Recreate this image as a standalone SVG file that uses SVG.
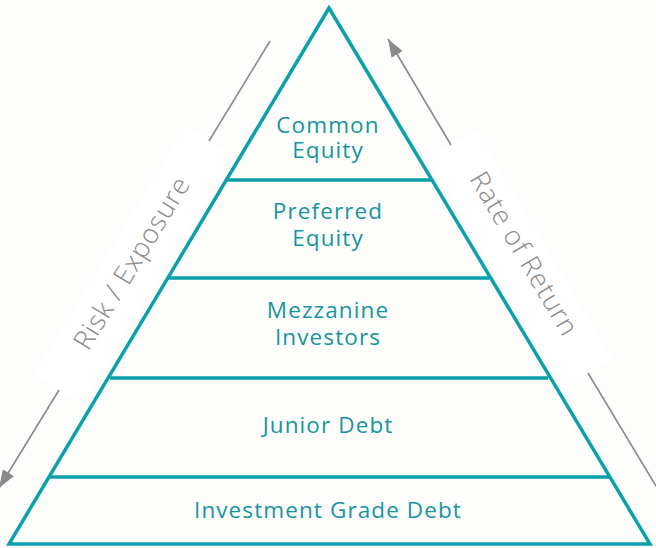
<svg xmlns="http://www.w3.org/2000/svg" width="656" height="548" viewBox="0 0 656 548">
<style>
.bg{fill:#fdfdfb}
.band{fill:#ffffff}
.edge{fill:#fdfdfb;stroke:#0ca1aa;stroke-width:3.5;stroke-linejoin:miter}
.div{stroke:#0ca1aa;stroke-width:3.5}
.lbl{font-family:"Open Sans","Liberation Sans",sans-serif;font-size:22.5px;fill:#17959f;text-anchor:middle;letter-spacing:1.1px}
.side{font-family:"Open Sans","Liberation Sans",sans-serif;font-weight:300;font-size:27px;fill:#8a8a8a;text-anchor:middle;letter-spacing:0.8px}
.arr{stroke:#8a8a8c;stroke-width:1.6;fill:none}
</style>
<defs>
<marker id="ah" markerUnits="userSpaceOnUse" markerWidth="18" markerHeight="13" refX="18" refY="6.5" orient="auto">
<path d="M0,0 L18,6.5 L0,13 z" fill="#8a8a8c"/>
</marker>
</defs>
<rect class="bg" x="0" y="0" width="656" height="548"/>
<g transform="translate(134,265) rotate(-58.6)"><rect class="band" x="-146" y="-28" width="292" height="56"/></g>
<g transform="translate(520,259) rotate(59.3)"><rect class="band" x="-133" y="-28" width="266" height="56"/></g>

<g id="connectors">
<line class="arr" x1="270" y1="41" x2="209" y2="141"/>
<line class="arr" x1="59" y1="390" x2="-1" y2="488" marker-end="url(#ah)"/>
<line class="arr" x1="451" y1="145" x2="388" y2="39" marker-end="url(#ah)"/>
<line class="arr" x1="588" y1="373" x2="656" y2="486"/>
</g>

<g id="pyramid">
<path class="edge" d="M329,8 L9,544 L650,544 Z"/>
</g>
<g id="common-equity">
<text class="lbl" x="328" y="133"><tspan x="328" y="133">Common</tspan><tspan x="328" y="158">Equity</tspan></text>
</g>
<g id="preferred-equity">
<line class="div" x1="225" y1="180" x2="433" y2="180"/>
<text class="lbl" x="328" y="219"><tspan x="328" y="219">Preferred</tspan><tspan x="328" y="246">Equity</tspan></text>
</g>
<g id="mezzanine-investors">
<line class="div" x1="167" y1="278" x2="489" y2="278"/>
<text class="lbl" x="328" y="318"><tspan x="328" y="318">Mezzanine</tspan><tspan x="328" y="345">Investors</tspan></text>
</g>
<g id="junior-debt">
<line class="div" x1="110" y1="378" x2="548" y2="378"/>
<text class="lbl" x="328" y="433">Junior Debt</text>
</g>
<g id="investment-grade-debt">
<line class="div" x1="50" y1="477" x2="609" y2="477"/>
<text class="lbl" x="328" y="518">Investment Grade Debt</text>
</g>
<g id="risk-exposure">
<text class="side" transform="translate(132,263) rotate(-58.6)" x="0" y="9">Risk / Exposure</text>
</g>
<g id="rate-of-return">
<text class="side" transform="translate(524,254) rotate(59.3)" x="0" y="9">Rate of Return</text>
</g>
</svg>
